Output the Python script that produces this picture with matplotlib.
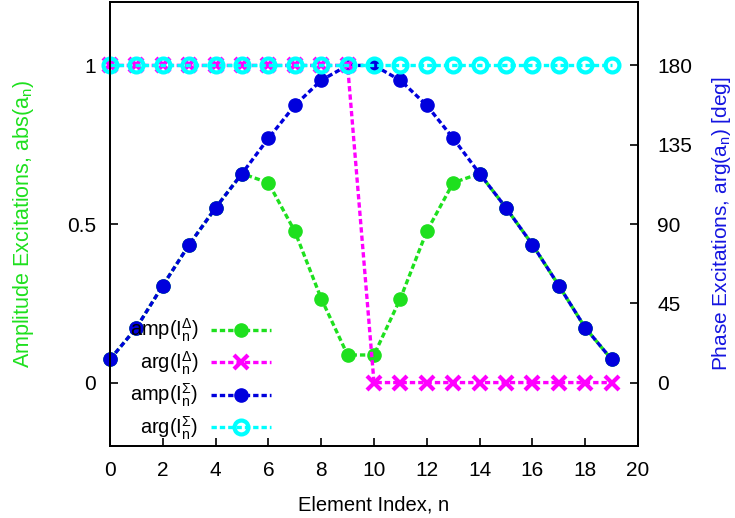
import matplotlib
matplotlib.use("Agg")
import matplotlib.pyplot as plt

plt.rcParams["font.family"] = ["Liberation Sans", "DejaVu Sans"]
plt.rcParams["mathtext.fontset"] = "custom"
plt.rcParams["mathtext.rm"] = "Liberation Sans"
plt.rcParams["mathtext.it"] = "Liberation Sans"
plt.rcParams["mathtext.sf"] = "Liberation Sans"

# element excitations of the 20-element array
n = list(range(20))
amp_delta = [0.073, 0.173, 0.306, 0.435, 0.551, 0.659, 0.630, 0.477, 0.265, 0.087,
             0.087, 0.265, 0.477, 0.630, 0.659, 0.551, 0.435, 0.306, 0.173, 0.073]
arg_delta = [180] * 10 + [0] * 10
amp_sigma = [0.073, 0.173, 0.306, 0.435, 0.551, 0.659, 0.770, 0.874, 0.953, 1.0,
             1.0, 0.953, 0.874, 0.770, 0.659, 0.551, 0.435, 0.306, 0.173, 0.073]
arg_sigma = [180] * 20

GREEN = "#1ee01e"
MAGENTA = "#ff00ff"
BLUE = "#0000dd"
CYAN = "#00ffff"

fig = plt.figure(figsize=(7.35, 5.18), dpi=100)
ax = fig.add_axes([110 / 735, 72 / 518, 528 / 735, 444 / 518])
ax2 = ax.twinx()

lw = 2.4
dash = (1.6, 0.9)
h1, = ax.plot(n, amp_delta, color=GREEN, lw=lw, dashes=dash, marker="o",
              ms=9.5, clip_on=False, label=r"amp($\mathrm{I}_n^{\Delta}$)")
h3, = ax.plot(n, amp_sigma, color=BLUE, lw=lw, dashes=dash, marker="o",
              ms=9.5, clip_on=False, label=r"amp($\mathrm{I}_n^{\Sigma}$)")
h2, = ax2.plot(n, arg_delta, color=MAGENTA, lw=lw, dashes=dash, marker="x",
               ms=10, mew=3, clip_on=False, label=r"arg($\mathrm{I}_n^{\Delta}$)")
h4, = ax2.plot(n, arg_sigma, color=CYAN, lw=lw, dashes=dash, marker="o",
               ms=10, mew=3, mfc="none", clip_on=False,
               label=r"arg($\mathrm{I}_n^{\Sigma}$)")

ax.set_xlim(0, 20)
ax.set_ylim(-0.2, 1.2)
ax2.set_ylim(-36, 216)
ax.set_xticks(range(0, 21, 2))
ax.set_yticks([0, 0.5, 1])
ax.set_yticklabels(["0", "0.5", "1"])
ax2.set_yticks([0, 45, 90, 135, 180])

for a in (ax, ax2):
    for s in a.spines.values():
        s.set_linewidth(1.3)
ax.tick_params(direction="in", length=6, width=1.2, labelsize=15, pad=11,
               top=False, right=False)
ax.tick_params(axis="y", pad=10)
ax2.tick_params(direction="in", length=6, width=1.2, labelsize=15, pad=14)

ax.set_xlabel("Element Index, n", fontsize=14.5, labelpad=11)
ax.set_ylabel(r"Amplitude Excitations, abs(a$_\mathrm{n}$)", fontsize=15.5,
              color=GREEN, labelpad=22)
ax2.set_ylabel(r"Phase Excitations, arg(a$_\mathrm{n}$) [deg]", fontsize=15,
               color="#1515e0", labelpad=13)

ax2.legend(handles=[h1, h2, h3, h4], loc="center right",
           bbox_to_anchor=(0.305, 0.15), frameon=False, markerfirst=False,
           fontsize=14.5, handlelength=3.0, handletextpad=0.6,
           labelspacing=0.25, borderpad=0, borderaxespad=0)

fig.savefig("out.png", dpi=100)
